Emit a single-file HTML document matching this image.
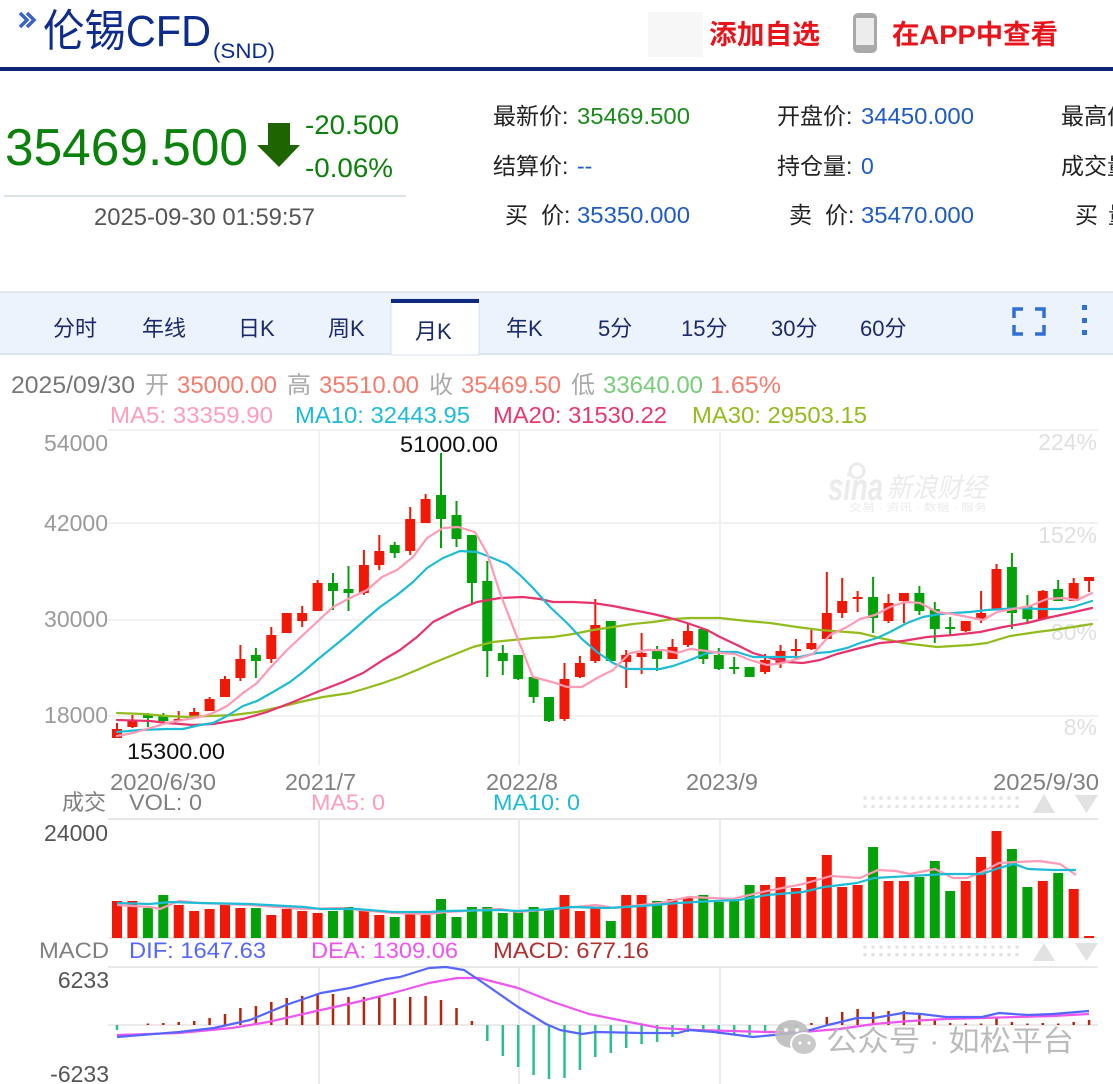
<!DOCTYPE html>
<html><head><meta charset="utf-8">
<style>
html,body{margin:0;padding:0;background:#fff;width:1113px;height:1084px;overflow:hidden}
svg{display:block;font-family:"Liberation Sans","Noto Sans CJK SC",sans-serif}
</style></head>
<body>
<svg width="1113" height="1084" viewBox="0 0 1113 1084" xmlns="http://www.w3.org/2000/svg">
<defs>
<pattern id="dots" x="863" y="796" width="8" height="8.5" patternUnits="userSpaceOnUse"><circle cx="2" cy="2" r="1.8" fill="#e3e3e3"/></pattern>
<pattern id="dots2" x="863" y="945" width="8" height="7.6" patternUnits="userSpaceOnUse"><circle cx="2" cy="2" r="1.8" fill="#e3e3e3"/></pattern>
</defs>

<!-- Header -->
<path d="M20 13 L27 20 L20 27 M27 13 L34 20 L27 27" fill="none" stroke="#3a63c7" stroke-width="3.5"/>
<text x="43" y="46" font-size="44" fill="#0d2c8c" textLength="168" lengthAdjust="spacingAndGlyphs">伦锡CFD</text>
<text x="213" y="58" font-size="21" fill="#0d2c8c" textLength="62" lengthAdjust="spacingAndGlyphs">(SND)</text>
<rect x="648" y="12" width="55" height="45" fill="#f7f7f7"/>
<text x="709" y="44" font-size="27" font-weight="bold" fill="#e8141b" textLength="111" lengthAdjust="spacingAndGlyphs">添加自选</text>
<rect x="853" y="13" width="24" height="40" rx="5" fill="#a9a9a9"/>
<rect x="856" y="18" width="18" height="27" fill="#ececec"/>
<text x="892" y="44" font-size="27" font-weight="bold" fill="#e8141b" textLength="166" lengthAdjust="spacingAndGlyphs">在APP中查看</text>
<rect x="0" y="67" width="1113" height="4" fill="#0c2477"/>

<!-- Price block -->
<text x="5" y="165" font-size="52" fill="#0b800b" textLength="243" lengthAdjust="spacingAndGlyphs">35469.500</text>
<path d="M268 123 H290 V145 H300 L279 167 L257 145 H268 Z" fill="#1e6400"/>
<text x="305" y="134" font-size="27" fill="#0b800b" textLength="94" lengthAdjust="spacingAndGlyphs">-20.500</text>
<text x="305" y="177" font-size="27" fill="#0b800b" textLength="88" lengthAdjust="spacingAndGlyphs">-0.06%</text>
<rect x="4" y="195" width="402" height="2" fill="#dde2e8"/>
<text x="94" y="225" font-size="24" fill="#555" textLength="221" lengthAdjust="spacingAndGlyphs">2025-09-30 01:59:57</text>

<g font-size="23" fill="#222">
<text x="493" y="124">最新价:</text><text x="577" y="124" fill="#1a8a1a" textLength="113" lengthAdjust="spacingAndGlyphs">35469.500</text>
<text x="493" y="174">结算价:</text><text x="577" y="174" fill="#1e5bc6">--</text>
<text x="505" y="223">买</text><text x="541" y="223">价:</text><text x="577" y="223" fill="#1e5bc6" textLength="113" lengthAdjust="spacingAndGlyphs">35350.000</text>
<text x="777" y="124">开盘价:</text><text x="861" y="124" fill="#1e5bc6" textLength="113" lengthAdjust="spacingAndGlyphs">34450.000</text>
<text x="777" y="174">持仓量:</text><text x="861" y="174" fill="#1e5bc6">0</text>
<text x="789" y="223">卖</text><text x="825" y="223">价:</text><text x="861" y="223" fill="#1e5bc6" textLength="113" lengthAdjust="spacingAndGlyphs">35470.000</text>
<text x="1061" y="124">最高价</text>
<text x="1061" y="174">成交量</text>
<text x="1075" y="223">买</text><text x="1108" y="223">量</text>
</g>

<!-- Tab bar -->
<rect x="0" y="292" width="1113" height="62" fill="#edf3fc"/>
<rect x="0" y="291" width="1113" height="2" fill="#dfe6f0"/>
<rect x="0" y="353" width="1113" height="2" fill="#dbe4ef"/>
<rect x="391" y="299" width="88" height="56" fill="#fff" stroke="#d5dff0" stroke-width="1"/>
<rect x="391" y="299" width="88" height="4" fill="#0e2a7f"/>
<g font-size="22" fill="#1b2a6b">
<text x="53" y="336">分时</text>
<text x="142" y="336">年线</text>
<text x="238" y="336">日K</text>
<text x="328" y="336">周K</text>
<text x="415" y="339">月K</text>
<text x="506" y="336">年K</text>
<text x="598" y="336">5分</text>
<text x="681" y="336">15分</text>
<text x="771" y="336">30分</text>
<text x="860" y="336">60分</text>
</g>
<path d="M1014 318V309H1023 M1035 309H1044V318 M1044 325V334H1035 M1023 334H1014V325" fill="none" stroke="#2f6fd6" stroke-width="3.5"/>
<rect x="1082" y="305" width="5" height="5" fill="#2f6fd6"/>
<rect x="1082" y="318" width="5" height="5" fill="#2f6fd6"/>
<rect x="1082" y="330" width="5" height="5" fill="#2f6fd6"/>

<!-- Info lines -->
<g font-size="24">
<text x="11" y="393" fill="#777" textLength="124" lengthAdjust="spacingAndGlyphs">2025/09/30</text>
<text x="145" y="393" fill="#aaa">开</text>
<text x="177" y="393" fill="#f57c6c" textLength="100" lengthAdjust="spacingAndGlyphs">35000.00</text>
<text x="287" y="393" fill="#aaa">高</text>
<text x="319" y="393" fill="#f57c6c" textLength="100" lengthAdjust="spacingAndGlyphs">35510.00</text>
<text x="429" y="393" fill="#aaa">收</text>
<text x="461" y="393" fill="#f57c6c" textLength="100" lengthAdjust="spacingAndGlyphs">35469.50</text>
<text x="571" y="393" fill="#aaa">低</text>
<text x="603" y="393" fill="#77cc77" textLength="100" lengthAdjust="spacingAndGlyphs">33640.00</text>
<text x="710" y="393" fill="#f57c6c" textLength="71" lengthAdjust="spacingAndGlyphs">1.65%</text>
</g>
<g font-size="23">
<text x="110" y="423" fill="#ff9eb8" textLength="163" lengthAdjust="spacingAndGlyphs">MA5: 33359.90</text>
<text x="295" y="423" fill="#1dbbd9" textLength="175" lengthAdjust="spacingAndGlyphs">MA10: 32443.95</text>
<text x="493" y="423" fill="#e8376e" textLength="174" lengthAdjust="spacingAndGlyphs">MA20: 31530.22</text>
<text x="692" y="423" fill="#93bb1c" textLength="175" lengthAdjust="spacingAndGlyphs">MA30: 29503.15</text>
</g>

<!-- Price panel grid -->
<g stroke="#f1f1f1" stroke-width="2">
<path d="M108 430H1098 M108 523H1098 M108 620H1098 M108 716H1098"/>
<path d="M319 430V765 M519 430V765 M720 430V765"/>
</g>
<g font-size="23" fill="#9a9a9a" text-anchor="end">
<text x="108" y="451">54000</text>
<text x="108" y="531">42000</text>
<text x="108" y="627">30000</text>
<text x="108" y="723">18000</text>
</g>
<g font-size="23" fill="#e0e0e0" text-anchor="end">
<text x="1097" y="450">224%</text>
<text x="1097" y="543">152%</text>
<text x="1097" y="640">80%</text>
<text x="1097" y="735">8%</text>
</g>
<!-- sina watermark -->
<g fill="#ebebeb">
<circle cx="857" cy="471" r="7" fill="none" stroke="#ebebeb" stroke-width="3"/>
<text x="828" y="500" font-size="38" font-style="italic" font-weight="bold" textLength="55" lengthAdjust="spacingAndGlyphs">sina</text>
<text x="887" y="497" font-size="27" font-style="italic" textLength="100" lengthAdjust="spacingAndGlyphs">新浪财经</text>
<text x="849" y="511" font-size="10" textLength="138" lengthAdjust="spacingAndGlyphs">交易 · 资讯 · 数据 · 服务</text>
</g>

<!-- Candles -->
<path fill="none" stroke="#f01806" stroke-width="2" d="M117 723V738 M132.4 715V728 M178.7 711V721 M194.2 708V718 M209.6 697V711 M225 676V697 M240.4 645V681 M271.3 627V663 M286.7 613V633 M302.2 606V627 M317.6 580V611 M363.9 550V595 M379.3 535V570 M410.2 507V555 M425.6 494V523 M564.5 663V721 M579.9 656V678 M595.3 599V663 M626.2 650V688 M641.6 633V674 M672.5 639V659 M687.9 623V647 M765.1 654V674 M780.5 645V668 M795.9 639V660 M811.4 629V650 M826.8 572V639 M842.2 578V618 M857.6 591V612 M888.5 594V623 M903.9 593V623 M965.7 621V632 M981.1 591V623 M996.5 564V609 M1042.8 590V619 M1073.7 578V601 M1089.1 577V592"/>
<path fill="#f01806" d="M112 729h10v9h-10z M127.4 720h10v7h-10z M173.7 719h10v2h-10z M189.2 712h10v6h-10z M204.6 699h10v12h-10z M220 679h10v18h-10z M235.4 659h10v19h-10z M266.3 635h10v24h-10z M281.7 613h10v20h-10z M297.2 613h10v8h-10z M312.6 583h10v28h-10z M358.9 565h10v28h-10z M374.3 551h10v14h-10z M405.2 519h10v32h-10z M420.6 499h10v24h-10z M559.5 679h10v40h-10z M574.9 663h10v14h-10z M590.3 625h10v36h-10z M621.2 655h10v7h-10z M636.6 653h10v4h-10z M667.5 647h10v12h-10z M682.9 631h10v14h-10z M760.1 660h10v12h-10z M775.5 651h10v12h-10z M790.9 649h10v2h-10z M806.4 643h10v6h-10z M821.8 613h10v26h-10z M837.2 601h10v12h-10z M852.6 597h10v2h-10z M883.5 603h10v18h-10z M898.9 593h10v8h-10z M960.7 621h10v10h-10z M976.1 613h10v6h-10z M991.5 569h10v40h-10z M1037.8 591h10v28h-10z M1068.7 583h10v18h-10z M1084.1 577h10v4h-10z"/>
<path fill="none" stroke="#04a10a" stroke-width="2" d="M147.9 713V727 M163.3 713V723 M255.9 648V678 M333 573V610 M348.5 566V611 M394.7 542V558 M441 453V548 M456.5 501V547 M471.9 535V604 M487.3 561V677 M502.8 645V675 M518.2 655V680 M533.6 677V703 M549 697V722 M610.8 621V661 M657.1 646V671 M703.3 629V664 M718.8 648V670 M734.2 657V674 M749.6 667V677 M873.1 577V633 M919.4 586V615 M934.8 602V643 M950.2 617V635 M1011.9 553V629 M1027.4 595V623 M1058.2 580V601"/>
<path fill="#04a10a" d="M142.9 715h10v3h-10z M158.3 716h10v5h-10z M250.9 655h10v6h-10z M328 583h10v8h-10z M343.5 589h10v4h-10z M389.7 545h10v8h-10z M436 495h10v24h-10z M451.5 515h10v24h-10z M466.9 535h10v48h-10z M482.3 581h10v70h-10z M497.8 653h10v8h-10z M513.2 655h10v24h-10z M528.6 677h10v20h-10z M544 697h10v24h-10z M605.8 621h10v40h-10z M652.1 650h10v9h-10z M698.3 629h10v30h-10z M713.8 655h10v14h-10z M729.2 667h10v2h-10z M744.6 667h10v10h-10z M868.1 597h10v21h-10z M914.4 593h10v18h-10z M929.8 609h10v20h-10z M945.2 627h10v2h-10z M1006.9 567h10v46h-10z M1022.4 606h10v13h-10z M1053.2 589h10v12h-10z"/>

<!-- MA lines -->
<g fill="none" stroke-width="2.2" stroke-linejoin="round" stroke-linecap="round">
<polyline stroke="#93bb1c" points="117,713 143,714 167,716 187,717 210,716 233,715 257,712 280,707 300,702 323,697 350,693 367,688 383,683 400,677 417,670 433,663 453,655 473,647 493,642 513,640 533,638 553,637 573,634 593,630 613,627 633,624 653,622 673,619 690,618 707,618 720,618 747,621 770,623 797,627 820,630 860,633 880,638 903,643 937,647 970,645 987,643 1010,636 1037,632 1053,630 1073,627 1092,624"/>
<polyline stroke="#e8336b" points="117,720 150,721 167,723 193,725 213,724 243,719 267,712 293,702 317,692 343,682 363,673 383,660 400,650 417,637 433,622 457,610 477,602 500,598 523,597 540,599 553,602 573,602 593,603 613,606 633,610 653,614 670,618 687,623 707,630 720,637 737,645 753,653 770,658 787,662 803,663 820,660 837,654 860,648 880,643 903,641 927,637 953,635 980,632 1003,627 1027,623 1047,618 1070,613 1092,608"/>
<polyline stroke="#1ebbd7" points="117,732 140,730 167,729 183,729 200,725 213,723 227,716 243,706 257,701 273,692 290,682 303,672 317,660 333,647 350,633 367,618 380,607 397,595 413,582 427,568 443,558 460,551 477,552 490,557 507,564 520,575 533,588 550,607 567,623 582,639 597,652 613,663 627,669 643,669 660,669 673,666 690,660 707,653 720,652 737,652 753,657 770,657 787,657 800,657 817,653 830,652 847,648 860,643 877,638 890,632 907,623 923,617 940,614 953,613 970,612 987,610 1003,609 1020,608 1040,609 1060,609 1073,607 1092,601"/>
<polyline stroke="#ff9ab4" points="117,736 133,733 150,728 167,723 183,720 200,717 213,713 227,706 243,693 257,683 270,668 287,650 303,635 317,622 333,607 350,598 367,590 382,577 397,570 413,557 427,538 443,528 458,527 475,532 487,553 500,593 517,637 533,677 552,682 567,687 582,687 597,678 613,670 630,653 647,650 663,650 677,653 690,649 707,651 720,653 735,654 750,660 767,665 783,663 797,659 813,654 830,635 847,627 860,619 875,615 890,607 905,602 920,603 937,612 953,614 968,617 983,620 997,612 1013,609 1030,606 1047,599 1063,598 1077,600 1092,593"/>
</g>

<g font-size="22" fill="#111">
<text x="400" y="452" textLength="98" lengthAdjust="spacingAndGlyphs">51000.00</text>
<text x="127" y="759" textLength="98" lengthAdjust="spacingAndGlyphs">15300.00</text>
</g>

<!-- X axis labels -->
<g font-size="23" fill="#808080">
<text x="110" y="790" textLength="106" lengthAdjust="spacingAndGlyphs">2020/6/30</text>
<text x="285" y="790" textLength="71" lengthAdjust="spacingAndGlyphs">2021/7</text>
<text x="486" y="790" textLength="72" lengthAdjust="spacingAndGlyphs">2022/8</text>
<text x="686" y="790" textLength="72" lengthAdjust="spacingAndGlyphs">2023/9</text>
<text x="993" y="790" textLength="106" lengthAdjust="spacingAndGlyphs">2025/9/30</text>
</g>

<!-- Volume header -->
<g font-size="22">
<text x="62" y="810" fill="#808080">成交</text>
<text x="129" y="810" fill="#808080" textLength="73" lengthAdjust="spacingAndGlyphs">VOL: 0</text>
<text x="311" y="810" fill="#ff9eb8" textLength="74" lengthAdjust="spacingAndGlyphs">MA5: 0</text>
<text x="493" y="810" fill="#1dbbd9" textLength="87" lengthAdjust="spacingAndGlyphs">MA10: 0</text>
</g>
<rect x="863" y="796" width="158" height="14" fill="url(#dots)"/>
<path d="M1033 813 L1044 794 L1055 813Z M1075 795 L1098 795 L1086.5 813Z" fill="#e2e2e2"/>

<!-- Volume panel -->
<rect x="108" y="818" width="990" height="2" fill="#e6e6e6"/>
<path d="M319 819V938 M519 819V938 M720 819V938" stroke="#ebebeb" stroke-width="2"/>
<rect x="108" y="937" width="990" height="2" fill="#ececec"/>
<text x="108" y="841" font-size="23" fill="#555" text-anchor="end">24000</text>
<path fill="#f01806" d="M112 901h10v37h-10z M127.4 901h10v37h-10z M173.7 905h10v33h-10z M189.2 911h10v27h-10z M204.6 909h10v29h-10z M220 903h10v35h-10z M235.4 908h10v30h-10z M266.3 915h10v23h-10z M281.7 909h10v29h-10z M297.2 911h10v27h-10z M312.6 913h10v25h-10z M358.9 910h10v28h-10z M374.3 915h10v23h-10z M405.2 914h10v24h-10z M420.6 915h10v23h-10z M559.5 895h10v43h-10z M574.9 911h10v27h-10z M590.3 908h10v30h-10z M621.2 895h10v43h-10z M636.6 895h10v43h-10z M667.5 899h10v39h-10z M682.9 898h10v40h-10z M760.1 885h10v53h-10z M775.5 877h10v61h-10z M790.9 888h10v50h-10z M806.4 877h10v61h-10z M821.8 855h10v83h-10z M837.2 887h10v51h-10z M852.6 885h10v53h-10z M883.5 881h10v57h-10z M898.9 881h10v57h-10z M960.7 881h10v57h-10z M976.1 857h10v81h-10z M991.5 831h10v107h-10z M1037.8 881h10v57h-10z M1068.7 889h10v49h-10z M1084.1 936h10v2h-10z"/>
<path fill="#04a10a" d="M142.9 908h10v30h-10z M158.3 895h10v43h-10z M250.9 908h10v30h-10z M328 911h10v27h-10z M343.5 907h10v31h-10z M389.7 917h10v21h-10z M436 899h10v39h-10z M451.5 917h10v21h-10z M466.9 907h10v31h-10z M482.3 907h10v31h-10z M497.8 913h10v25h-10z M513.2 910h10v28h-10z M528.6 907h10v31h-10z M544 910h10v28h-10z M605.8 921h10v17h-10z M652.1 901h10v37h-10z M698.3 895h10v43h-10z M713.8 902h10v36h-10z M729.2 900h10v38h-10z M744.6 885h10v53h-10z M868.1 847h10v91h-10z M914.4 877h10v61h-10z M929.8 861h10v77h-10z M945.2 891h10v47h-10z M1006.9 849h10v89h-10z M1022.4 887h10v51h-10z M1053.2 873h10v65h-10z"/>
<g fill="none" stroke-width="2.2" stroke-linejoin="round">
<polyline stroke="#ff9ab4" points="117,905 150,907 160,909 179,901 200,903 250,905 304,909 340,908 393,913 429,914 446,912 500,909 518,912 553,909 596,905 614,908 660,903 689,897 714,898 732,899 767,891 803,884 831,876 860,878 878,870 896,871 910,874 935,869 953,878 967,878 982,872 999,863 1017,862 1039,861 1060,864 1076,875"/>
<polyline stroke="#1ebbd7" points="117,903 150,904 171,902 200,903 250,904 304,907 321,909 357,909 393,912 429,912 446,911 500,910 518,911 553,909 571,907 607,908 642,906 678,903 714,901 739,900 767,895 803,892 824,887 857,883 874,878 910,876 946,874 982,874 999,868 1014,864 1028,869 1053,870 1076,870"/>
</g>

<!-- MACD header -->
<g font-size="22">
<text x="39" y="958" fill="#808080" textLength="70" lengthAdjust="spacingAndGlyphs">MACD</text>
<text x="129" y="958" fill="#5566ff" textLength="137" lengthAdjust="spacingAndGlyphs">DIF: 1647.63</text>
<text x="311" y="958" fill="#ee55ee" textLength="147" lengthAdjust="spacingAndGlyphs">DEA: 1309.06</text>
<text x="493" y="958" fill="#b03030" textLength="156" lengthAdjust="spacingAndGlyphs">MACD: 677.16</text>
</g>
<rect x="863" y="945" width="158" height="12" fill="url(#dots2)"/>
<path d="M1033 961 L1044 943 L1055 961Z M1075 943 L1098 943 L1086.5 961Z" fill="#e2e2e2"/>

<!-- MACD panel -->
<rect x="108" y="966" width="990" height="2" fill="#e8e8e8"/>
<rect x="108" y="1024" width="990" height="2" fill="#ebebeb"/>
<path d="M319 967V1084 M519 967V1084 M720 967V1084" stroke="#ebebeb" stroke-width="2"/>
<g font-size="23" fill="#555" text-anchor="end">
<text x="109" y="988">6233</text>
<text x="109" y="1082">-6233</text>
</g>
<path fill="none" stroke="#b5250a" stroke-width="2.5" d="M147.9 1025V1023.5 M163.3 1025V1023 M178.7 1025V1022 M194.2 1025V1021 M209.6 1025V1018 M225 1025V1014 M240.4 1025V1008 M255.9 1025V1006 M271.3 1025V1002 M286.7 1025V998 M302.2 1025V996 M317.6 1025V993 M333 1025V994 M348.5 1025V997 M363.9 1025V997 M379.3 1025V996 M394.7 1025V998 M410.2 1025V997 M425.6 1025V996 M441 1025V1000 M456.5 1025V1008 M471.9 1025V1021 M811.4 1025V1023 M826.8 1025V1017 M842.2 1025V1012 M857.6 1025V1009 M873.1 1025V1012 M888.5 1025V1011 M903.9 1025V1011 M919.4 1025V1014 M934.8 1025V1019 M950.2 1025V1023 M965.7 1025V1023.5 M981.1 1025V1023.5 M996.5 1025V1018 M1011.9 1025V1022 M1027.4 1025V1023.5 M1042.8 1025V1023 M1058.2 1025V1023.5 M1073.7 1025V1022 M1089.1 1025V1020"/>
<path fill="none" stroke="#2bbf8f" stroke-width="2.5" d="M117 1025V1030 M487.3 1025V1041 M502.8 1025V1056 M518.2 1025V1067 M533.6 1025V1075 M549 1025V1079 M564.5 1025V1078 M579.9 1025V1070 M595.3 1025V1057 M610.8 1025V1053 M626.2 1025V1048 M641.6 1025V1044 M657.1 1025V1042 M672.5 1025V1037 M687.9 1025V1032 M703.3 1025V1032 M718.8 1025V1034 M734.2 1025V1034 M749.6 1025V1035 M765.1 1025V1032 M780.5 1025V1030 M795.9 1025V1028"/>
<g fill="none" stroke-width="2.2" stroke-linejoin="round">
<polyline stroke="#ee55ee" points="117,1035 179,1033 232,1028 268,1022 321,1010 357,1002 393,993 429,983 457,978 479,978 518,988 553,1002 589,1014 624,1021 660,1028 696,1030 732,1031 767,1032 803,1032 839,1029 874,1024 910,1021 946,1019 982,1018 1017,1017 1053,1016 1089,1014"/>
<polyline stroke="#5566ff" points="117,1037 179,1032 214,1028 250,1020 286,1005 321,993 350,988 386,979 400,977 429,968 446,967 464,970 482,982 518,1007 546,1024 560,1030 582,1034 596,1032 642,1033 678,1033 689,1030 714,1032 753,1037 774,1035 803,1032 828,1025 857,1018 874,1018 903,1013 921,1014 946,1017 982,1017 999,1013 1028,1015 1053,1014 1089,1011"/>
</g>

<!-- WeChat watermark -->
<g opacity="0.9">
<ellipse cx="792" cy="1034" rx="17" ry="14" fill="#bdbdbd"/>
<ellipse cx="804" cy="1044" rx="13" ry="11" fill="#c4c4c4" stroke="#fff" stroke-width="2"/>
<circle cx="786" cy="1030" r="2" fill="#fff"/><circle cx="797" cy="1030" r="2" fill="#fff"/>
<circle cx="800" cy="1043" r="1.6" fill="#fff"/><circle cx="809" cy="1043" r="1.6" fill="#fff"/>
<text x="826" y="1051" font-size="29" fill="#b4b4b4" textLength="248" lengthAdjust="spacingAndGlyphs">公众号 · 如松平台</text>
</g>
</svg>
</body></html>
